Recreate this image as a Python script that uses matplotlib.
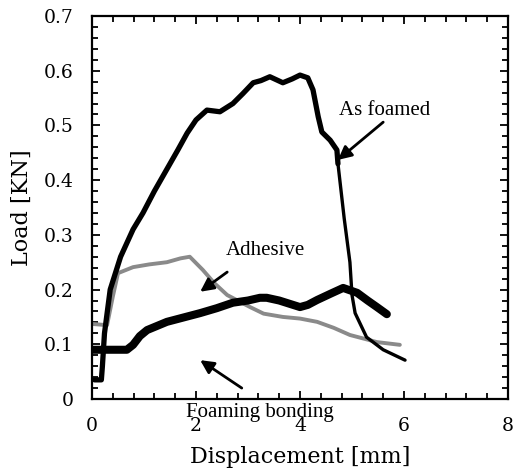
import matplotlib
matplotlib.use("Agg")
import matplotlib.pyplot as plt
from matplotlib.ticker import MultipleLocator

# As foamed (black)
foamed_x = [0.05, 0.18, 0.2, 0.24, 0.35, 0.55, 0.79, 0.98, 1.2, 1.44, 1.65, 1.83, 2.0, 2.21, 2.46,
            2.71, 2.9, 3.1, 3.25, 3.42, 3.67, 3.85, 4.0, 4.15, 4.25, 4.35, 4.42, 4.58, 4.71, 4.73,
            4.85, 4.96, 5.0, 5.06, 5.15, 5.28, 5.6, 6.02]
foamed_y = [0.035, 0.035, 0.06, 0.12, 0.2, 0.26, 0.31, 0.34, 0.38, 0.42, 0.455, 0.486, 0.51, 0.528, 0.525,
            0.54, 0.558, 0.578, 0.582, 0.589, 0.578, 0.585, 0.592, 0.587, 0.565, 0.516, 0.488, 0.473, 0.455, 0.43,
            0.33, 0.25, 0.19, 0.157, 0.139, 0.113, 0.09, 0.071]

# Adhesive (gray)
adh_x = [0.02, 0.29, 0.4, 0.5, 0.79, 1.1, 1.44, 1.7, 1.88, 2.13, 2.35, 2.6, 2.8, 3.04, 3.3, 3.67,
         4.0, 4.33, 4.65, 4.96, 5.48, 5.92]
adh_y = [0.137, 0.135, 0.187, 0.23, 0.241, 0.246, 0.25, 0.257, 0.26, 0.236, 0.212, 0.19, 0.18, 0.168, 0.156, 0.15,
         0.147, 0.141, 0.13, 0.117, 0.104, 0.099]

# Foaming bonding (black, thick)
bond_x = [0.02, 0.4, 0.67, 0.79, 0.92, 1.06, 1.44, 1.8, 2.08, 2.4, 2.71, 3.0, 3.23, 3.36, 3.6,
          4.0, 4.15, 4.33, 4.6, 4.83, 5.1, 5.3, 5.48, 5.67]
bond_y = [0.09, 0.09, 0.09, 0.099, 0.115, 0.126, 0.141, 0.15, 0.157, 0.166, 0.176, 0.18, 0.185, 0.185, 0.18,
          0.168, 0.172, 0.181, 0.193, 0.203, 0.194, 0.18, 0.168, 0.155]

plt.rcParams['font.family'] = 'DejaVu Serif'

fig = plt.figure(figsize=(5.16, 4.72), dpi=100)
ax = fig.add_axes([92 / 516, 1 - 399 / 472, 416 / 516, 383 / 472])

ax.plot(adh_x, adh_y, color='#8a8a8a', lw=2.8, solid_capstyle='round', zorder=2)
ax.plot(bond_x, bond_y, color='black', lw=5.8, solid_capstyle='round', zorder=3)
ax.plot(foamed_x[:30], foamed_y[:30], color='black', lw=3.8, solid_capstyle='round', zorder=4)
ax.plot(foamed_x[29:], foamed_y[29:], color='black', lw=2.4, solid_capstyle='round', zorder=4)

ax.set_xlim(0, 8)
ax.set_ylim(0, 0.7)
ax.xaxis.set_major_locator(MultipleLocator(2))
ax.xaxis.set_minor_locator(MultipleLocator(0.4))
ax.yaxis.set_major_locator(MultipleLocator(0.1))
ax.yaxis.set_minor_locator(MultipleLocator(0.02))
ax.yaxis.set_major_formatter(plt.FuncFormatter(lambda v, p: '0' if abs(v) < 1e-9 else f'{v:.1f}'))
ax.tick_params(which='both', direction='in', top=True, right=True, labelsize=13.5, width=1.3, pad=13)
ax.tick_params(which='major', length=6)
ax.tick_params(which='minor', length=4)
for s in ax.spines.values():
    s.set_linewidth(1.6)

ax.set_xlabel('Displacement [mm]', fontsize=16, labelpad=8)
ax.set_ylabel('Load [KN]', fontsize=16, labelpad=8)

tfont = dict(family='Liberation Serif', fontsize=15)
arrow = dict(arrowstyle='-|>', color='black', lw=2, mutation_scale=20, shrinkA=0, shrinkB=0)
ax.text(5.63, 0.527, 'As foamed', ha='center', va='center', **tfont)
ax.annotate('', xy=(4.73, 0.437), xytext=(5.6, 0.506), arrowprops=arrow)
ax.text(3.33, 0.272, 'Adhesive', ha='center', va='center', **tfont)
ax.annotate('', xy=(2.08, 0.196), xytext=(2.6, 0.232), arrowprops=arrow)
ax.text(3.23, -0.025, 'Foaming bonding', ha='center', va='center', clip_on=False, **tfont)
ax.annotate('', xy=(2.08, 0.071), xytext=(2.88, 0.02), arrowprops=arrow)

fig.savefig('out.png', dpi=100)
